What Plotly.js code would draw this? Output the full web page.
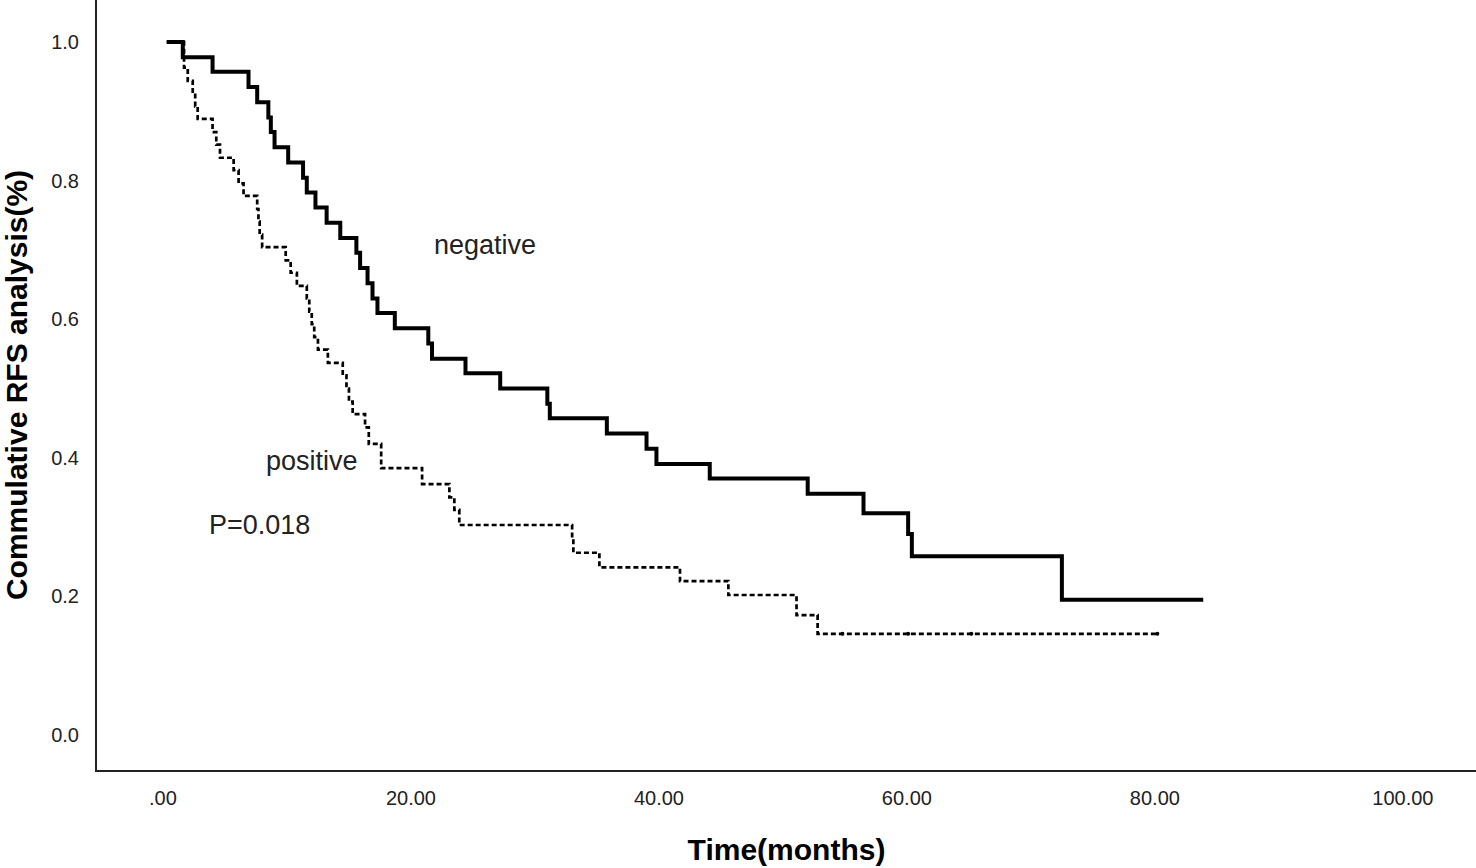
<!DOCTYPE html>
<html>
<head>
<meta charset="utf-8">
<script src="https://cdn.plot.ly/plotly-3.0.1.min.js"></script>
<style>html,body{margin:0;padding:0;background:#fff;}#chart{width:1476px;height:868px;}</style>
</head>
<body>
<div id="chart"></div>
<script>
// Negative group (solid line): time in months, cumulative RFS
const negTime = [0.3, 1.6, 4.0, 6.9, 7.6, 8.5, 8.7, 9.0, 10.1, 11.3, 11.6, 12.3, 13.2, 14.3, 15.6, 15.9, 16.5, 16.9, 17.3, 18.7, 21.4, 21.7, 24.4, 27.2, 31.0, 31.2, 35.8, 39.0, 39.8, 44.1, 52.0, 56.5, 60.1, 60.4, 72.5, 83.9];
const negSurv = [1.0, 0.978, 0.957, 0.935, 0.913, 0.891, 0.870, 0.848, 0.826, 0.804, 0.783, 0.761, 0.739, 0.717, 0.696, 0.674, 0.652, 0.630, 0.609, 0.587, 0.565, 0.543, 0.522, 0.500, 0.478, 0.457, 0.435, 0.413, 0.391, 0.370, 0.348, 0.320, 0.290, 0.258, 0.195, 0.195];

// Positive group (dashed line)
const posTime = [0.3, 1.7, 2.0, 2.4, 2.6, 2.8, 4.0, 4.3, 4.6, 5.7, 6.1, 6.5, 7.6, 7.7, 7.8, 8.0, 9.9, 10.3, 10.8, 11.6, 11.8, 12.0, 12.2, 12.5, 13.3, 14.5, 14.8, 15.0, 15.3, 16.3, 16.6, 17.6, 20.9, 23.1, 23.5, 23.9, 33.0, 33.1, 35.2, 41.7, 45.6, 51.1, 52.8, 80.2];
const posSurv = [1.0, 0.963, 0.944, 0.926, 0.907, 0.889, 0.870, 0.852, 0.833, 0.815, 0.796, 0.778, 0.759, 0.741, 0.722, 0.704, 0.685, 0.667, 0.648, 0.630, 0.611, 0.593, 0.574, 0.556, 0.537, 0.519, 0.500, 0.481, 0.463, 0.444, 0.420, 0.385, 0.362, 0.343, 0.325, 0.303, 0.283, 0.263, 0.242, 0.222, 0.202, 0.173, 0.146, 0.146];

// Censored observations in the positive group
const posCensTime = [54.8, 60.1, 65.2, 80.2];
const posCensSurv = [0.146, 0.146, 0.146, 0.146];

const xTickVals = [0, 20, 40, 60, 80, 100];
const xTickText = ['.00', '20.00', '40.00', '60.00', '80.00', '100.00'];
const yTickVals = [0, 0.2, 0.4, 0.6, 0.8, 1.0];
const yTickText = ['0.0', '0.2', '0.4', '0.6', '0.8', '1.0'];

const traces = [
  {x: negTime, y: negSurv, mode: 'lines', line: {shape: 'hv', color: '#000', width: 4}, hoverinfo: 'x+y', name: 'negative'},
  {x: posTime, y: posSurv, mode: 'lines', line: {shape: 'hv', color: '#000', width: 2.7, dash: '5px,3px'}, hoverinfo: 'x+y', name: 'positive'},
  {x: posCensTime, y: posCensSurv, mode: 'markers', marker: {symbol: 'circle', size: 4, color: '#000'}, hoverinfo: 'x+y', name: 'censored'}
];

const tickFont = {family: 'Arial, "Liberation Sans", sans-serif', size: 20, color: '#222'};
const titleFont = {family: 'Arial, "Liberation Sans", sans-serif', size: 30, color: '#000', weight: 'bold'};
const annFont = {family: 'Arial, "Liberation Sans", sans-serif', size: 27, color: '#222'};

const layout = {
  width: 1476, height: 868,
  margin: {l: 97, r: 0, t: 0, b: 98},
  paper_bgcolor: '#fff', plot_bgcolor: '#fff',
  showlegend: false,
  xaxis: {
    range: [-5.32, 105.9], tickvals: xTickVals, ticktext: xTickText,
    showgrid: false, zeroline: false, showline: true, linecolor: '#222', linewidth: 2,
    ticks: '', tickfont: tickFont, ticklabelstandoff: 9,
    title: {text: '<b>Time(months)</b>', font: titleFont, standoff: 31}
  },
  yaxis: {
    range: [-0.0505, 1.0606], tickvals: yTickVals, ticktext: yTickText,
    showgrid: false, zeroline: false, showline: true, linecolor: '#222', linewidth: 2,
    ticks: '', tickfont: tickFont, ticklabelstandoff: 12,
    title: {text: '<b>Commulative RFS analysis(%)</b>', font: titleFont, standoff: 20}
  },
  annotations: [
    {x: 26.0, y: 0.707, xref: 'x', yref: 'y', text: 'negative', showarrow: false, font: annFont},
    {x: 12.0, y: 0.395, xref: 'x', yref: 'y', text: 'positive', showarrow: false, font: annFont},
    {x: 7.8, y: 0.303, xref: 'x', yref: 'y', text: 'P=0.018', showarrow: false, font: annFont}
  ]
};

Plotly.newPlot('chart', traces, layout, {displayModeBar: false, staticPlot: true});
</script>
</body>
</html>
